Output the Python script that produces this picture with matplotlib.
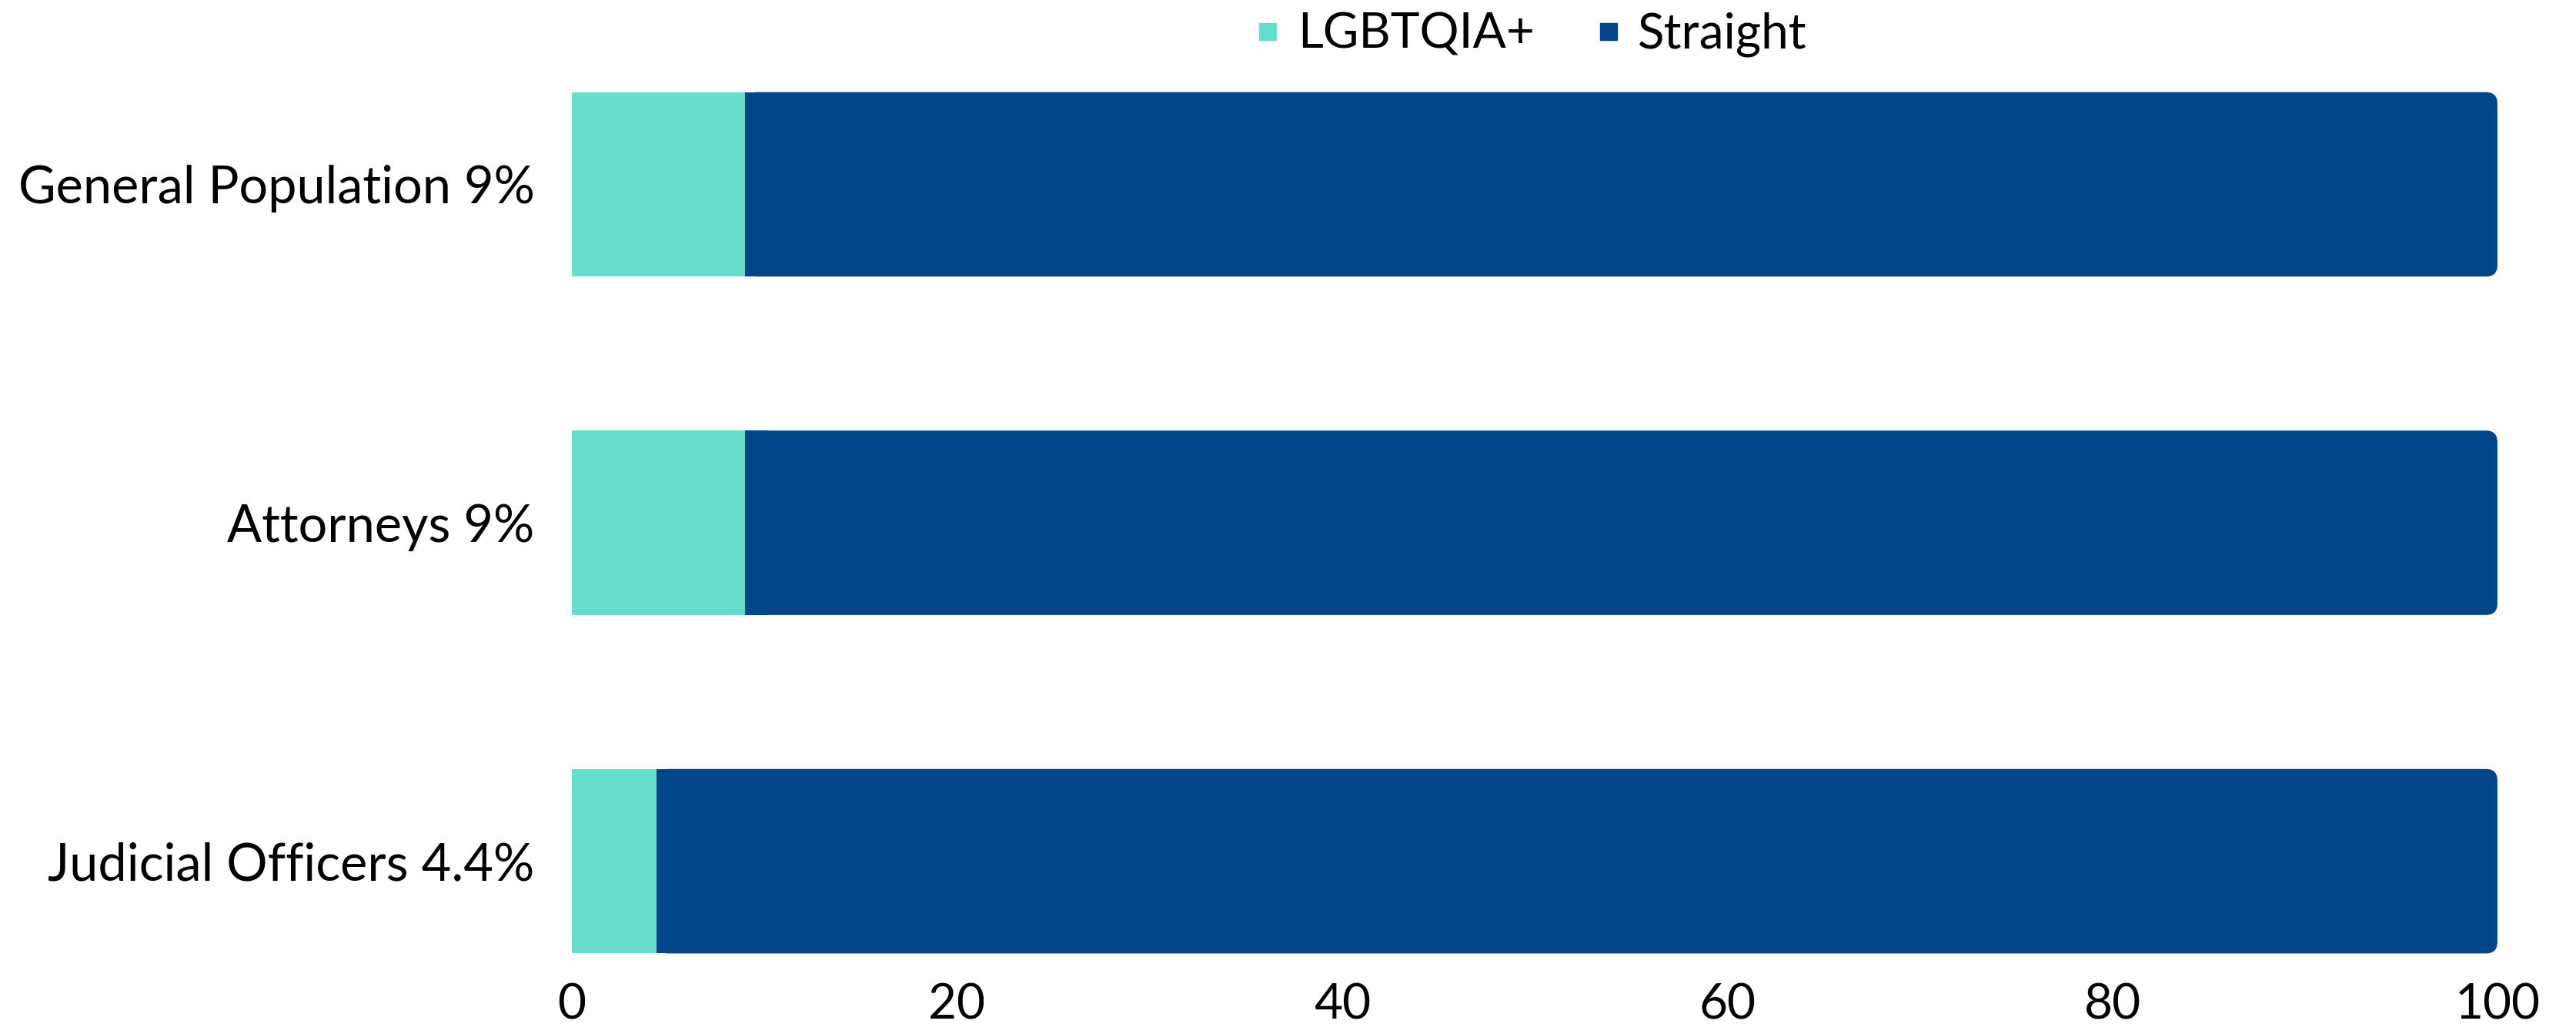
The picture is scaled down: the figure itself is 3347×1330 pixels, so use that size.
import matplotlib
matplotlib.use("Agg")
import matplotlib.pyplot as plt
from matplotlib.patches import FancyBboxPatch
from matplotlib.lines import Line2D

plt.rcParams["font.family"] = ["Lato", "DejaVu Sans"]

# ================= DATA =================
groups = ["General Population 9%", "Attorneys 9%", "Judicial Officers 4.4%"]
lgbtqia = [9, 9, 4.4]
straight = [91, 91, 95.6]
xticks = [0, 20, 40, 60, 80, 100]

TEAL = "#66DDCD"
NAVY = "#004688"
BAR_H = 0.545
RADIUS = 0.6

# ================= CHART =================
fig = plt.figure(figsize=(33.47, 13.3), dpi=100)
ax = fig.add_axes([0.222, 0.0598, 0.7475, 0.8593])

ypos = list(range(len(groups)))

ax.barh(ypos, lgbtqia, height=BAR_H, color=TEAL, linewidth=0, zorder=2)

# short square piece fills the left corners so only the right end is rounded
ax.barh(ypos, [2 * RADIUS] * len(ypos), left=lgbtqia, height=BAR_H,
        color=NAVY, linewidth=0, zorder=1)

for y, left, width in zip(ypos, lgbtqia, straight):
    box = FancyBboxPatch(
        (left, y - BAR_H / 2), width, BAR_H,
        boxstyle=f"round,pad=0,rounding_size={RADIUS}",
        mutation_aspect=0.057,
        facecolor=NAVY, edgecolor="none", transform=ax.transData,
        zorder=2,
    )
    ax.add_patch(box)

ax.set_xlim(0, 100)
ax.set_ylim(2.3, -0.3)
ax.set_xticks(xticks)
ax.set_xticklabels([str(t) for t in xticks])
ax.set_yticks(ypos)
ax.set_yticklabels(groups)

ax.tick_params(axis="x", length=0, pad=19, labelsize=46)
ax.tick_params(axis="y", length=0, pad=35, labelsize=48)
for s in ax.spines.values():
    s.set_visible(False)

handles = [
    Line2D([], [], marker="s", linestyle="none", markersize=16,
           markerfacecolor=TEAL, markeredgecolor=TEAL),
    Line2D([], [], marker="s", linestyle="none", markersize=16,
           markerfacecolor=NAVY, markeredgecolor=NAVY),
]
fig.legend(handles, ["LGBTQIA+", "Straight"], loc="center",
           bbox_to_anchor=(0.593, 0.966), ncol=2, frameon=False,
           fontsize=46, handletextpad=0.2, columnspacing=1.1,
           handlelength=0.8)

fig.savefig("out.png", dpi=100, facecolor="white")
